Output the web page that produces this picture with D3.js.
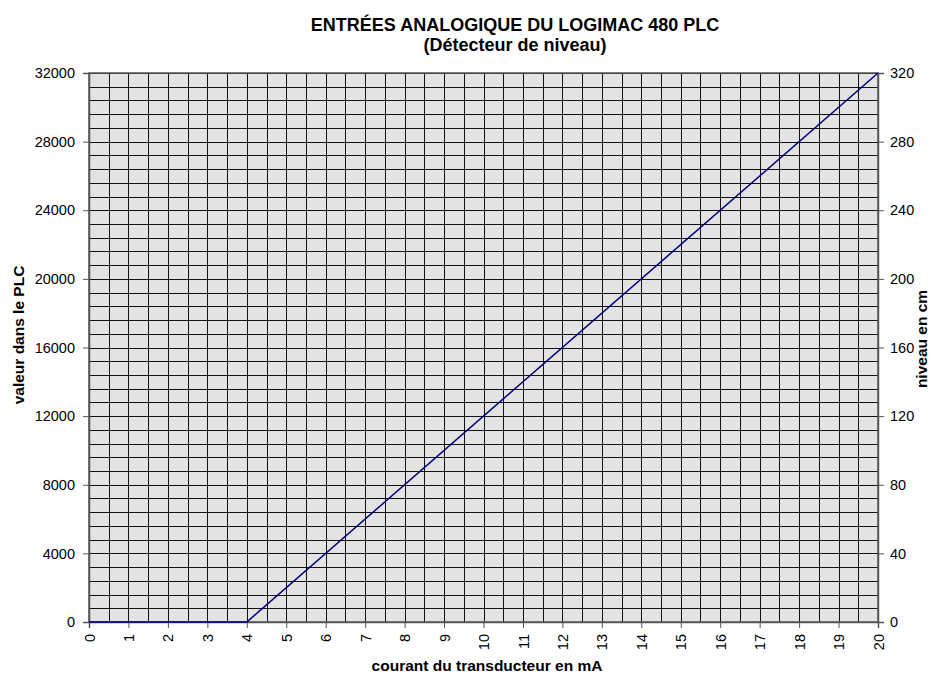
<!DOCTYPE html>
<html><head><meta charset="utf-8">
<script src="https://cdn.jsdelivr.net/npm/d3@7"></script>
<style>body{margin:0;background:#fff}svg{display:block}text{font-family:"Liberation Sans",Arial,sans-serif}</style>
</head><body>
<svg id="c" width="939" height="676"></svg>
<script>
const titleLines = ["ENTRÉES ANALOGIQUE DU LOGIMAC 480 PLC", "(Détecteur de niveau)"];
const currentMA = [0, 4, 20];
const plcValue = [0, 0, 32000];
const xTicks = d3.range(0, 21, 1);
const yTicksLeft = [0, 4000, 8000, 12000, 16000, 20000, 24000, 28000, 32000];
const yTicksRight = [0, 40, 80, 120, 160, 200, 240, 280, 320];
const xGrid = d3.range(0, 20.01, 0.5);
const yGrid = d3.range(0, 32001, 800);

const svg = d3.select("#c");
const L = 89, R = 878, T = 73, B = 622;
const x = d3.scaleLinear().domain([0, 20]).range([L, R]);
const y = d3.scaleLinear().domain([0, 32000]).range([B, T]);
const y2 = d3.scaleLinear().domain([0, 320]).range([B, T]);

svg.append("rect").attr("x", L).attr("y", T).attr("width", R - L).attr("height", B - T).attr("fill", "#e3e3e3");

svg.append("g").selectAll("line").data(xGrid).join("line")
  .attr("x1", d => Math.round(x(d)) + 0.5).attr("x2", d => Math.round(x(d)) + 0.5)
  .attr("y1", T).attr("y2", B).attr("stroke", "#111").attr("stroke-width", 1);
svg.append("g").selectAll("line").data(yGrid).join("line")
  .attr("y1", d => Math.round(y(d)) + 0.5).attr("y2", d => Math.round(y(d)) + 0.5)
  .attr("x1", L).attr("x2", R).attr("stroke", "#111").attr("stroke-width", 1);

svg.append("rect").attr("x", L).attr("y", T).attr("width", R - L).attr("height", B - T)
  .attr("fill", "none").attr("stroke", "#555").attr("stroke-width", 1.5);

const fmt = d3.format("d");
const gl = svg.append("g").attr("transform", `translate(${L},0)`)
  .call(d3.axisLeft(y).tickValues(yTicksLeft).tickFormat(fmt).tickSize(6).tickPadding(8));
const gr = svg.append("g").attr("transform", `translate(${R},0)`)
  .call(d3.axisRight(y2).tickValues(yTicksRight).tickFormat(fmt).tickSize(6).tickPadding(6));
const gb = svg.append("g").attr("transform", `translate(0,${B})`)
  .call(d3.axisBottom(x).tickValues(xTicks).tickFormat(fmt).tickSize(6));
[gl, gr, gb].forEach(g => {
  g.select(".domain").attr("stroke", "#555").attr("stroke-width", 1.5);
  g.selectAll(".tick line").attr("stroke", "#555");
  g.selectAll("text").attr("font-size", 14.5).attr("fill", "#000")
    .attr("font-family", '"Liberation Sans",Arial,sans-serif');
});
gb.selectAll("text").attr("transform", "rotate(-90)").attr("text-anchor", "end")
  .attr("x", -12).attr("y", 0).attr("dy", "0.35em");

const line = d3.line().x((d, i) => x(currentMA[i])).y(d => y(d));
svg.append("path").datum(plcValue).attr("d", line)
  .attr("fill", "none").attr("stroke", "#000080").attr("stroke-width", 1.5);

svg.append("g").selectAll("text").data(titleLines).join("text")
  .attr("x", 515).attr("y", (d, i) => 31 + i * 20).attr("text-anchor", "middle")
  .attr("font-size", 18).attr("font-weight", "bold").text(d => d);

svg.append("text").attr("x", 487).attr("y", 671).attr("text-anchor", "middle")
  .attr("font-size", 15.5).attr("font-weight", "bold").text("courant du transducteur en mA");
svg.append("text").attr("transform", `translate(24,335) rotate(-90)`)
  .attr("text-anchor", "middle").attr("font-size", 15.5).attr("font-weight", "bold").text("valeur dans le PLC");
svg.append("text").attr("transform", `translate(927,339) rotate(-90)`)
  .attr("text-anchor", "middle").attr("font-size", 15.5).attr("font-weight", "bold").text("niveau en cm");
</script>
</body></html>
